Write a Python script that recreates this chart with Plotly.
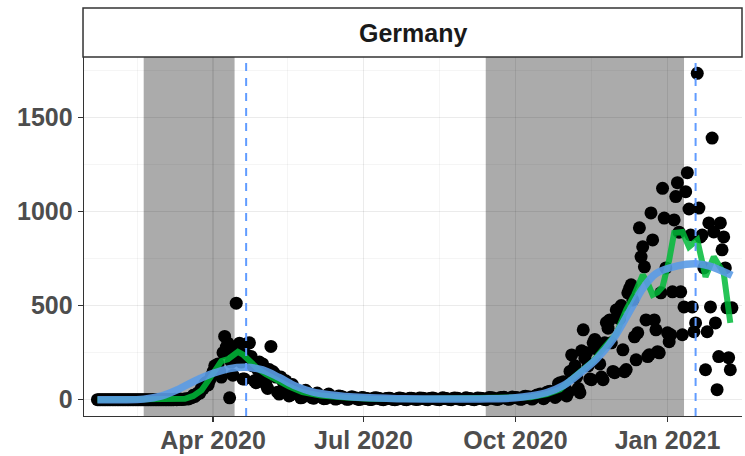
import pandas as pd
import plotly.graph_objects as go

# ---------------- data ----------------
start_date = "2020-01-22"

deaths_jan_2020 = [0, 0, 0, 0, 0, 0, 0, 0, 0, 0]
deaths_feb_2020 = [0, 0, 0, 0, 0, 0, 0, 0, 0, 0, 0, 0, 0, 0, 0,
                   0, 0, 0, 0, 0, 0, 0, 0, 0, 0, 0, 0, 0, 0]
deaths_mar_2020 = [0, 0, 0, 0, 0, 0, 0, 0, 2, 0, 1, 3, 1, 2, 4, 5,
                   4, 8, 11, 23, 17, 27, 37, 35, 61, 59, 86, 92, 78, 104, 128]
deaths_apr_2020 = [149, 180, 170, 190, 150, 120, 250, 336, 280, 300, 10, 200, 130, 250, 513,
                   280, 300, 200, 110, 110, 240, 300, 302, 230, 180, 100, 90, 160, 200, 170]
deaths_may_2020 = [190, 120, 80, 60, 160, 283, 150, 140, 120, 40, 30, 120, 100, 90, 100, 40,
                   20, 25, 80, 60, 45, 50, 35, 10, 12, 45, 50, 40, 25, 22, 10]
deaths_jun_2020 = [8, 30, 35, 25, 20, 12, 5, 6, 25, 30, 20, 15, 10, 3, 5,
                   20, 18, 15, 12, 8, 2, 3, 12, 15, 10, 10, 6, 1, 2, 12]
deaths_jul_2020 = [10, 8, 6, 4, 1, 1, 8, 10, 9, 7, 5, 2, 0, 3, 6, 8,
                   7, 4, 1, 0, 2, 8, 9, 6, 5, 1, 0, 3, 7, 8, 5]
deaths_aug_2020 = [3, 1, 2, 9, 8, 7, 5, 1, 0, 6, 8, 9, 5, 3, 1, 0,
                   5, 10, 8, 6, 4, 1, 0, 6, 9, 7, 8, 3, 1, 0, 4]
deaths_sep_2020 = [10, 8, 6, 5, 2, 0, 3, 9, 8, 7, 6, 2, 0, 4, 11,
                   9, 10, 6, 3, 1, 4, 12, 10, 13, 9, 5, 2, 6, 14, 11]
deaths_oct_2020 = [12, 10, 8, 2, 4, 15, 18, 12, 15, 10, 3, 8, 20, 25, 22, 30,
                   18, 5, 14, 40, 42, 45, 40, 28, 12, 20, 85, 90, 70, 95, 60]
deaths_nov_2020 = [20, 40, 150, 238, 160, 180, 120, 60, 37, 260, 371, 220, 250, 180, 110,
                   106, 302, 320, 270, 290, 190, 120, 106, 302, 410, 380, 424, 302, 150, 143]
deaths_dec_2020 = [477, 480, 430, 500, 265, 149, 160, 568, 590, 610, 530, 334, 212, 355, 913, 759,
                   812, 706, 424, 229, 239, 992, 849, 424, 371, 255, 249, 568, 1123, 965, 700]
deaths_jan_2021 = [355, 308, 345, 573, 955, 1079, 1153, 890, 573, 345, 493, 1105, 1206, 1013, 875, 493,
                   361, 408, 1734, 1018, 865, 875, 700, 159, 361, 939, 493, 1390, 891, 408, 53]
deaths_feb_2021 = [229, 939, 796, 865, 700, 488, 223, 159, 488]

# rolling-average line (green), read at selected dates
avg_dates = ["2020-01-22", "2020-03-08", "2020-03-15", "2020-03-20", "2020-03-25", "2020-03-29",
             "2020-04-02", "2020-04-06", "2020-04-10", "2020-04-13", "2020-04-16", "2020-04-19",
             "2020-04-23", "2020-04-28", "2020-05-03", "2020-05-10", "2020-05-17", "2020-05-25",
             "2020-06-05", "2020-06-20", "2020-07-05", "2020-08-01", "2020-09-01", "2020-09-20",
             "2020-10-01", "2020-10-10", "2020-10-20", "2020-10-28", "2020-11-04", "2020-11-10",
             "2020-11-17", "2020-11-24", "2020-12-01", "2020-12-07", "2020-12-12", "2020-12-17",
             "2020-12-20", "2020-12-23", "2020-12-26", "2020-12-29", "2021-01-02", "2021-01-05",
             "2021-01-10", "2021-01-14", "2021-01-19", "2021-01-24", "2021-01-29", "2021-02-04",
             "2021-02-08"]
avg_values = [0, 0, 5, 20, 50, 100,
              160, 205, 215, 235, 254, 240,
              205, 165, 135, 100, 70, 40,
              22, 12, 5, 4, 5, 8,
              10, 13, 30, 55, 110, 150,
              205, 280, 350, 477, 560, 663,
              620, 557, 570, 600, 742, 886,
              891, 812, 849, 653, 759, 673,
              408]

# smoothed trend (blue), read at selected dates
smooth_dates = ["2020-01-22", "2020-02-05", "2020-02-19", "2020-03-01", "2020-03-11", "2020-03-21",
                "2020-04-01", "2020-04-11", "2020-04-21", "2020-05-01", "2020-05-11", "2020-05-21",
                "2020-05-31", "2020-06-10", "2020-07-01", "2020-07-25", "2020-08-20", "2020-09-15",
                "2020-10-01", "2020-10-10", "2020-10-20", "2020-10-30", "2020-11-09", "2020-11-19",
                "2020-11-29", "2020-12-11", "2020-12-17", "2020-12-25", "2021-01-07", "2021-01-18",
                "2021-01-26", "2021-02-09"]
smooth_values = [0, 0, 3, 20, 55, 100,
                 140, 165, 172, 158, 118, 72,
                 42, 27, 11, 5, 3, 5,
                 10, 20, 38, 75, 140, 215,
                 320, 500, 590, 670, 711, 722,
                 711, 660]

# shaded periods and peak markers
shade_starts = ["2020-02-19", "2020-09-13"]
shade_ends = ["2020-04-14", "2021-01-11"]
peak_dates = ["2020-04-21", "2021-01-18"]

tick_dates = ["2020-04-01", "2020-07-01", "2020-10-01", "2021-01-01"]
tick_labels = ["Apr 2020", "Jul 2020", "Oct 2020", "Jan 2021"]
minor_x_dates = ["2020-02-15", "2020-05-16", "2020-08-16", "2020-11-16", "2021-02-15"]
y_ticks = [0, 500, 1000, 1500]
y_minor = [250, 750, 1250, 1750]
panel_title = "Germany"

# ---------------- build ----------------
deaths = (deaths_jan_2020 + deaths_feb_2020 + deaths_mar_2020 + deaths_apr_2020 +
          deaths_may_2020 + deaths_jun_2020 + deaths_jul_2020 + deaths_aug_2020 +
          deaths_sep_2020 + deaths_oct_2020 + deaths_nov_2020 + deaths_dec_2020 +
          deaths_jan_2021 + deaths_feb_2021)
dates = pd.date_range(start_date, periods=len(deaths), freq="D")

fig = go.Figure()

fig.add_trace(go.Scatter(
    x=dates, y=deaths, mode="markers",
    marker=dict(color="black", size=13, line=dict(width=0)),
    hoverinfo="skip", showlegend=False))

fig.add_trace(go.Scatter(
    x=pd.to_datetime(avg_dates), y=avg_values, mode="lines",
    line=dict(color="#00BA38", width=6), opacity=0.85,
    hoverinfo="skip", showlegend=False))

fig.add_trace(go.Scatter(
    x=pd.to_datetime(smooth_dates), y=smooth_values, mode="lines",
    line=dict(color="#5A9BE6", width=7.5, shape="spline", smoothing=1.0), opacity=0.9,
    hoverinfo="skip", showlegend=False))

for s, e in zip(shade_starts, shade_ends):
    fig.add_shape(type="rect", xref="x", yref="paper", x0=s, x1=e, y0=0, y1=1,
                  fillcolor="rgba(0,0,0,0.33)", line=dict(width=0), layer="below")

for d in peak_dates:
    fig.add_shape(type="line", xref="x", yref="paper", x0=d, x1=d, y0=0, y1=1,
                  line=dict(color="#619CFF", width=2, dash="8px,7px"), layer="above")

# facet strip
fig.add_shape(type="rect", xref="paper", yref="paper", x0=-0.0015, x1=1.0,
              y0=1.0, y1=1.1365, fillcolor="white",
              line=dict(color="#333333", width=1.5), layer="above")
fig.add_annotation(x=0.5, y=1.068, xref="paper", yref="paper", text=panel_title,
                   showarrow=False, xanchor="center", yanchor="middle",
                   font=dict(family="Liberation Sans, Arial, sans-serif", size=25,
                             color="#1A1A1A", weight="bold"))

axis_font = dict(family="Liberation Sans, Arial, sans-serif", size=25, color="#4D4D4D", weight="bold")

major_grid = "rgba(0,0,0,0.08)"
minor_grid = "rgba(0,0,0,0.05)"

fig.update_xaxes(
    range=["2020-01-13 21:00", "2021-02-15 02:00"],
    tickmode="array", tickvals=pd.to_datetime(tick_dates), ticktext=tick_labels,
    tickfont=axis_font, ticks="outside", ticklen=5, tickwidth=1.2, tickcolor="#333333",
    ticklabelstandoff=-3,
    showline=True, linecolor="#333333", linewidth=1.3,
    showgrid=True, gridcolor=major_grid, gridwidth=1.3,
    minor=dict(tickmode="array", tickvals=pd.to_datetime(minor_x_dates),
               showgrid=True, gridcolor=minor_grid, gridwidth=0.8, ticks=""),
    zeroline=False, fixedrange=True, automargin=False)

fig.update_yaxes(
    range=[-86.7, 1820.7],
    tickmode="array", tickvals=y_ticks, ticktext=[str(v) for v in y_ticks],
    tickfont=axis_font, ticks="outside", ticklen=5, tickwidth=1.2, tickcolor="#333333",
    showline=True, linecolor="#333333", linewidth=1.3,
    showgrid=True, gridcolor=major_grid, gridwidth=1.3,
    minor=dict(tickmode="array", tickvals=y_minor,
               showgrid=True, gridcolor=minor_grid, gridwidth=0.8, ticks=""),
    zeroline=False, fixedrange=True, automargin=False)

fig.update_layout(
    width=745, height=456,
    margin=dict(l=84, r=3, t=57, b=40, pad=0, autoexpand=False),
    paper_bgcolor="white", plot_bgcolor="white",
    showlegend=False,
    font=dict(family="Liberation Sans, Arial, sans-serif"),
)

# remove the browser's default 8px page margin so the figure sits at the window origin
fig.write_html("out.html",
               config={"displayModeBar": False, "staticPlot": True},
               post_script="document.body.style.margin='0px';document.body.style.overflow='hidden';")
